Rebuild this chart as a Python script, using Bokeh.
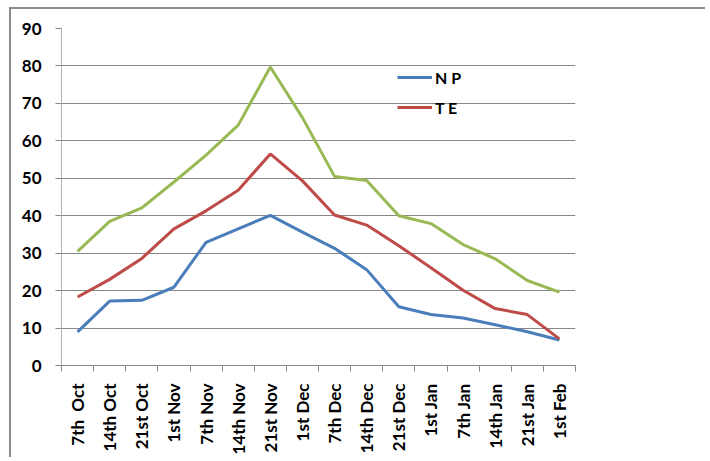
import numpy as np
from bokeh.plotting import figure
from bokeh.models import Range1d, FixedTicker, Legend, LegendItem
from bokeh.embed import file_html
from bokeh.resources import INLINE

categories = ["7th\u00a0 Oct", "14th Oct", "21st Oct", "1st Nov", "7th Nov", "14th Nov",
              "21st Nov", "1st Dec", "7th Dec", "14th Dec", "21st Dec", "1st Jan",
              "7th Jan", "14th Jan", "21st Jan", "1st Feb"]
np_values = [9.0, 17.2, 17.4, 20.9, 32.9, 36.5, 40.1, 35.6, 31.3, 25.6, 15.7, 13.6, 12.7, 10.9, 9.0, 6.8]
te_values = [18.3, 23.0, 28.6, 36.5, 41.3, 46.8, 56.5, 49.3, 40.2, 37.5, 32.0, 26.1, 20.1, 15.2, 13.6, 7.1]
third_values = [30.5, 38.5, 42.1, 49.0, 56.2, 64.2, 79.7, 66.2, 50.5, 49.4, 40.0, 37.9, 32.3, 28.5, 22.7, 19.6]
y_ticks = list(range(0, 91, 10))

FONT = "Lato"
GRID = "#878787"

n = len(categories)
xs = np.arange(n) + 0.5

p = figure(width=696, height=450, output_backend="svg", toolbar_location=None,
           x_range=Range1d(0, n), y_range=Range1d(0, 90),
           min_border_left=50, min_border_right=132, min_border_top=19, min_border_bottom=94)
p.styles = {"border-left": "2px solid #8c8c8c", "border-top": "2px solid #8c8c8c",
            "margin-left": "9px", "margin-top": "7px"}
p.outline_line_color = None
p.background_fill_color = "white"
p.border_fill_color = "white"

# x axis
xa = p.xaxis[0]
xa.ticker = FixedTicker(ticks=list(xs), minor_ticks=list(range(0, n + 1)))
xa.major_label_overrides = {float(x): c for x, c in zip(xs, categories)}
xa.major_label_orientation = np.pi / 2
xa.major_tick_line_color = None
xa.major_tick_out = 6
xa.major_tick_in = 0
xa.minor_tick_line_color = GRID
xa.minor_tick_out = 6
xa.minor_tick_in = 0
xa.major_label_standoff = 12
xa.axis_line_color = GRID
xa.major_label_text_font = FONT
xa.major_label_text_font_style = "bold"
xa.major_label_text_font_size = "17px"
xa.major_label_text_color = "black"

# y axis
ya = p.yaxis[0]
ya.ticker = FixedTicker(ticks=y_ticks)
ya.minor_tick_line_color = None
ya.major_tick_line_color = GRID
ya.major_tick_out = 6
ya.major_tick_in = 0
ya.axis_line_color = "#b0b0b0"
ya.major_label_standoff = 14
ya.major_label_text_font = FONT
ya.major_label_text_font_style = "bold"
ya.major_label_text_font_size = "17px"
ya.major_label_text_color = "black"

p.xgrid.grid_line_color = None
p.ygrid.grid_line_color = GRID
p.ygrid.ticker = FixedTicker(ticks=y_ticks[1:])

r_np = p.line(xs, np_values, line_color="#4a7ebb", line_width=3)
r_te = p.line(xs, te_values, line_color="#be4b48", line_width=3)
r_g = p.line(xs, third_values, line_color="#98b954", line_width=3)

legend = Legend(items=[LegendItem(label="N P", renderers=[r_np]),
                       LegendItem(label="T E", renderers=[r_te])],
                location=(336, 248), orientation="vertical",
                padding=0, spacing=10, margin=0,
                glyph_width=35, glyph_height=20, label_height=20, label_standoff=3,
                label_text_font=FONT, label_text_font_style="bold",
                label_text_font_size="16px", label_text_color="black",
                border_line_color=None, background_fill_alpha=0)
p.add_layout(legend, "center")

open("out.html", "w").write(file_html(p, INLINE))
